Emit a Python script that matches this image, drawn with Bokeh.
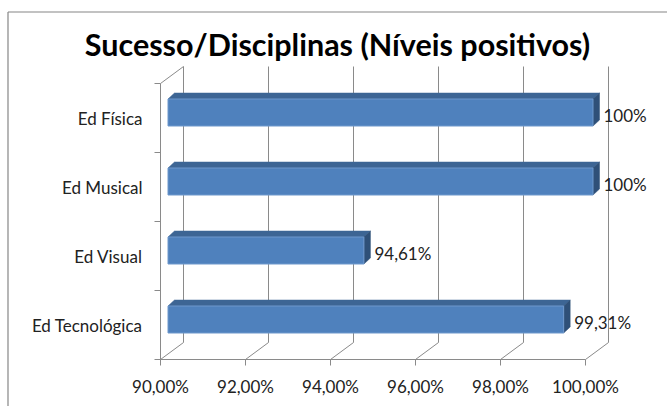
from bokeh.plotting import figure
from bokeh.models import Range1d, ColumnDataSource
from bokeh.core.properties import value
from bokeh.embed import file_html
from bokeh.resources import INLINE

# ---- data ----
categories = ["Ed Tecnológica", "Ed Visual", "Ed Musical", "Ed Física"]
values = [99.31, 94.61, 100.0, 100.0]
value_labels = ["99,31%", "94,61%", "100%", "100%"]
x_ticks = [90, 92, 94, 96, 98, 100]
x_tick_labels = ["90,00%", "92,00%", "94,00%", "96,00%", "98,00%", "100,00%"]
title_text = "Sucesso/Disciplinas (Níveis positivos)"

# ---- geometry (pixels -> data) ----
W, H = 667, 406
X_MIN, X_MAX = 90.0, 100.0
FX0, FX1 = 160.0, 585.0          # front plane x pixels for 90 / 100
SX = (FX1 - FX0) / (X_MAX - X_MIN)
FY_BOT, SY = 359.0, 69.0          # front plane bottom pixel, px per category
n = len(categories)

def xd(px):
    return X_MIN + (px - FX0) / SX

def yd(py):
    return -0.5 + (FY_BOT - py) / SY

DX, DY = 23 / SX, 17 / SY           # full depth offset of the walls
BFX, BFY = 7.5 / SX, 5.5 / SY       # bar front offset
BBX, BBY = 14 / SX, 11.5 / SY       # bar back offset
BH = 27 / SY                        # bar thickness

p = figure(width=W, height=H, output_backend="svg", toolbar_location=None,
           x_range=Range1d(xd(0), xd(W)), y_range=Range1d(yd(H), yd(0)),
           x_axis_location=None, y_axis_location=None, min_border=0)
p.grid.visible = False
p.outline_line_color = None
p.background_fill_color = "white"

grid_col = "#8a8a8a"
y_lo, y_hi = -0.5, n - 0.5

# back wall gridlines
p.segment(x0=[t + DX for t in x_ticks], y0=[y_lo + DY] * len(x_ticks),
          x1=[t + DX for t in x_ticks], y1=[y_hi + DY] * len(x_ticks),
          line_color=grid_col, line_width=1)
# floor diagonals
p.segment(x0=x_ticks, y0=[y_lo] * len(x_ticks),
          x1=[t + DX for t in x_ticks], y1=[y_lo + DY] * len(x_ticks),
          line_color=grid_col, line_width=1)
# front x axis line and left wall
p.segment(x0=[X_MIN, X_MIN, X_MIN], y0=[y_lo, y_lo, y_hi],
          x1=[X_MAX, X_MIN, X_MIN + DX], y1=[y_lo, y_hi, y_hi + DY],
          line_color=grid_col, line_width=1)
# x ticks
p.segment(x0=x_ticks, y0=[y_lo] * len(x_ticks), x1=x_ticks,
          y1=[y_lo - 6 / SY] * len(x_ticks), line_color=grid_col, line_width=1)
# category ticks
cat_edges = [i - 0.5 for i in range(n + 1)]
p.segment(x0=[X_MIN - 6 / SX] * len(cat_edges), y0=cat_edges,
          x1=[X_MIN] * len(cat_edges), y1=cat_edges,
          line_color=grid_col, line_width=1)

# bars
ys = list(range(n))
front = dict(left=[X_MIN + BFX] * n, right=[v + BFX for v in values],
             bottom=[y - BH / 2 + BFY for y in ys], top=[y + BH / 2 + BFY for y in ys])
top_xs, top_ys, side_xs, side_ys = [], [], [], []
for v, y in zip(values, ys):
    t = y + BH / 2
    b = y - BH / 2
    top_xs.append([X_MIN + BFX, v + BFX, v + BBX, X_MIN + BBX])
    top_ys.append([t + BFY, t + BFY, t + BBY, t + BBY])
    side_xs.append([v + BFX, v + BBX, v + BBX, v + BFX])
    side_ys.append([b + BFY, b + BBY, t + BBY, t + BFY])

p.patches(xs=top_xs, ys=top_ys, fill_color="#3d6594", line_color="#3d6594", line_width=0.5)
p.patches(xs=side_xs, ys=side_ys, fill_color="#2f5078", line_color="#2f5078", line_width=0.5)
p.quad(source=ColumnDataSource(front), left="left", right="right", bottom="bottom", top="top",
       fill_color="#4f81bd", line_color="#6f98cc", line_width=1)

font = value("Lato")
# value labels
p.text(x=values, y=ys, text=value_labels, x_offset=18, y_offset=-2.5,
       text_font=font, text_font_size="17px", text_color="#222222",
       text_align="left", text_baseline="middle")
# category labels
p.text(x=[X_MIN] * n, y=ys, text=categories, x_offset=-18, y_offset=0,
       text_font=font, text_font_size="17px", text_color="#222222",
       text_align="right", text_baseline="middle")
# x tick labels
p.text(x=x_ticks, y=[y_lo] * len(x_ticks), text=x_tick_labels, x_offset=0, y_offset=27,
       text_font=font, text_font_size="17px", text_color="#222222",
       text_align="center", text_baseline="middle")
# title
p.text(x=[xd(337)], y=[yd(43)], text=[title_text],
       text_font=font, text_font_size="30.5px", text_font_style="bold",
       text_color="#000000", text_align="center", text_baseline="middle")

# chart border (left and top)
p.segment(x0=[xd(7.5), xd(7.5)], y0=[yd(H), yd(11.5)], x1=[xd(7.5), xd(W)], y1=[yd(11.5), yd(11.5)],
          line_color="#868686", line_width=1.2)

open("out.html", "w").write(file_html(p, INLINE))
